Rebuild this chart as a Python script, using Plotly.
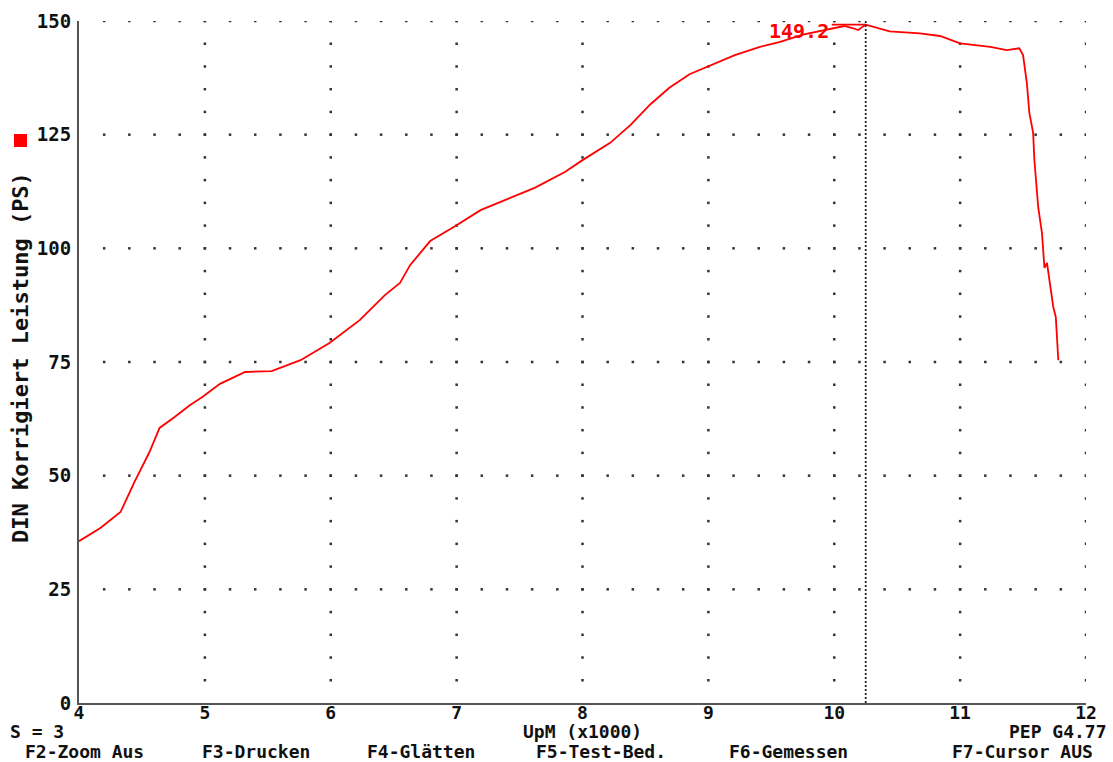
import numpy as np
import plotly.graph_objects as go

# measured power curve (rpm x1000, PS)
rpm = [4.00, 4.17, 4.33, 4.44, 4.56, 4.64, 4.76, 4.88, 4.98, 5.12, 5.32, 5.53, 5.76, 5.99,
       6.23, 6.43, 6.55, 6.63, 6.79, 6.99, 7.19, 7.38, 7.62, 7.86, 8.00, 8.22, 8.38, 8.54,
       8.69, 8.85, 8.99, 9.21, 9.41, 9.57, 9.75, 9.99, 10.08, 10.15, 10.19, 10.25, 10.44,
       10.68, 10.84, 11.00, 11.24, 11.37, 11.47, 11.50, 11.53, 11.55, 11.58, 11.59, 11.62,
       11.65, 11.66, 11.67, 11.69, 11.71, 11.74, 11.76, 11.78]
ps = [35.6, 38.5, 42.0, 48.6, 55.2, 60.5, 62.9, 65.5, 67.3, 70.2, 72.8, 73.0, 75.4, 79.2,
      84.2, 89.7, 92.4, 96.3, 101.6, 104.9, 108.4, 110.6, 113.3, 116.8, 119.4, 123.2, 127.1,
      131.7, 135.3, 138.3, 139.9, 142.5, 144.3, 145.4, 147.0, 148.3, 148.9, 148.4, 148.0,
      149.2, 147.7, 147.3, 146.7, 145.1, 144.3, 143.6, 144.0, 142.5, 136.4, 129.8, 125.4,
      119.4, 109.1, 103.4, 99.0, 95.7, 96.8, 92.4, 87.1, 84.9, 75.4]

x_ticks = [4, 5, 6, 7, 8, 9, 10, 11, 12]
y_ticks = [0, 25, 50, 75, 100, 125, 150]

footer_keys = ["F2-Zoom Aus", "F3-Drucken", "F4-Glätten", "F5-Test-Bed.", "F6-Gemessen", "F7-Cursor AUS"]

W, H = 1113, 762
L, R, T, B = 79, 27, 21, 59
FONT = "DejaVu Sans Mono"
INK = "#111111"

peak_i = int(np.argmax(ps))
peak_x, peak_y = rpm[peak_i], ps[peak_i]


def px_x(p):
    return (p - L) / (W - L - R)


def px_y(p):
    return (H - B - p) / (H - T - B)


def bold(size, color=INK):
    return dict(family=FONT, size=size, color=color, weight="bold")


def label(text, x, y, xanchor="center", size=18, **kw):
    fig.add_annotation(x=px_x(x), y=px_y(y), xref="paper", yref="paper", text=text,
                       showarrow=False, xanchor=xanchor, yanchor="middle",
                       font=bold(size), **kw)


fig = go.Figure()

# dotted grid: rows every 25 PS with dots every 0.2k rpm, columns every 1k rpm with dots every 5 PS
gx, gy = [], []
for yv in y_ticks[1:]:
    for xv in np.arange(4.2, 12.01, 0.2):
        gx.append(xv)
        gy.append(yv)
for xv in x_ticks[1:]:
    for yv in np.arange(5, 150.1, 5):
        gx.append(xv)
        gy.append(yv)
fig.add_trace(go.Scatter(x=gx, y=gy, mode="markers",
                         marker=dict(size=2.5, color="#333333", symbol="square"),
                         hoverinfo="skip", showlegend=False))

# cursor line at peak
fig.add_shape(type="line", x0=peak_x, x1=peak_x, y0=0, y1=150,
              line=dict(color="#222222", width=1.8, dash="2px,2px"))
fig.add_shape(type="line", x0=peak_x - 0.27, x1=peak_x, y0=peak_y, y1=peak_y,
              line=dict(color="red", width=1.8))

fig.add_trace(go.Scatter(x=rpm, y=ps, mode="lines",
                         line=dict(color="red", width=1.8),
                         showlegend=False))

fig.add_annotation(x=peak_x, y=peak_y, xref="x", yref="y", text=f"{peak_y:.1f}",
                   showarrow=False, xanchor="right", yanchor="middle", xshift=-35, yshift=-6,
                   font=bold(20, "red"))

# red series marker
fig.add_shape(type="rect", xref="paper", yref="paper",
              x0=px_x(14), x1=px_x(27), y0=px_y(147), y1=px_y(134),
              fillcolor="red", line=dict(width=0))

label("DIN Korrigiert Leistung (PS)", 20, 358, size=22, textangle=-90)
label("S = 3", 8, 731.5, xanchor="left")
label("UpM (x1000)", 582, 731.5)
label("PEP G4.77", 1109, 731.5, xanchor="right")

footer_cx = [84, 256, 421, 601, 788, 1022]
for key, fx in zip(footer_keys, footer_cx):
    label(key, fx, 751)

fig.update_layout(
    width=W, height=H,
    margin=dict(l=L, r=R, t=T, b=B, autoexpand=False),
    paper_bgcolor="white", plot_bgcolor="white",
    showlegend=False,
    xaxis=dict(range=[4, 12], tickvals=x_ticks, showgrid=False, zeroline=False,
               showline=True, linecolor="#555555", linewidth=2, ticks="",
               ticklabelstandoff=-8, tickfont=bold(18)),
    yaxis=dict(range=[0, 150], tickvals=y_ticks, showgrid=False, zeroline=False,
               showline=True, linecolor="#555555", linewidth=2, ticks="",
               ticklabelstandoff=2, tickfont=bold(19)),
)

fig.write_html("out.html", config={"displayModeBar": False},
               post_script="document.body.style.margin='0';")
